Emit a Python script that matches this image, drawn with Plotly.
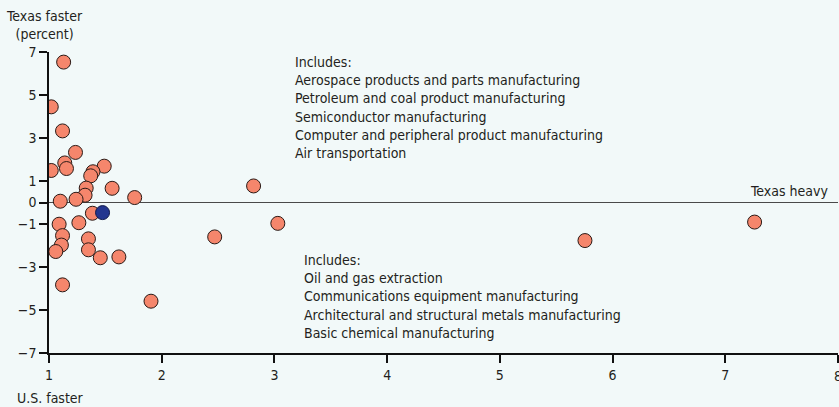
import plotly.graph_objects as go

# Data
x_orange = [1.13, 1.02, 1.12, 1.235, 1.14, 1.155, 1.02, 1.49, 1.39, 1.37, 1.33, 1.56,
            1.32, 1.24, 1.10, 1.76, 1.385, 1.09, 1.265, 1.12, 1.11, 1.06, 1.35, 1.35,
            1.455, 1.62, 1.12, 1.905, 2.815, 3.03, 2.47, 5.755, 7.26]
y_orange = [6.53, 4.45, 3.33, 2.33, 1.84, 1.58, 1.49, 1.69, 1.43, 1.24, 0.67, 0.66,
            0.34, 0.15, 0.06, 0.23, -0.5, -1.01, -0.94, -1.54, -1.98, -2.28, -1.69, -2.2,
            -2.57, -2.53, -3.83, -4.59, 0.77, -0.97, -1.6, -1.77, -0.91]
x_blue = [1.475]
y_blue = [-0.47]

x_ticks = [1, 2, 3, 4, 5, 6, 7, 8]
y_ticks = [7, 5, 3, 1, 0, -1, -3, -5, -7]

upper_note = ["Includes:",
              "Aerospace products and parts manufacturing",
              "Petroleum and coal product manufacturing",
              "Semiconductor manufacturing",
              "Computer and peripheral product manufacturing",
              "Air transportation"]
lower_note = ["Includes:",
              "Oil and gas extraction",
              "Communications equipment manufacturing",
              "Architectural and structural metals manufacturing",
              "Basic chemical manufacturing"]

FONT = "DejaVu Sans Condensed, Liberation Sans Narrow, Arial Narrow, sans-serif"
TXT = "#231f20"
BG = "#f2f9f9"

fig = go.Figure()
fig.add_trace(go.Scatter(
    x=x_orange, y=y_orange, mode="markers",
    marker=dict(size=14, color="#f5866c", line=dict(color="#2a1a16", width=1)),
    hoverinfo="skip", showlegend=False))
fig.add_trace(go.Scatter(
    x=x_blue, y=y_blue, mode="markers",
    marker=dict(size=14, color="#23368f", line=dict(color="#10184a", width=1)),
    hoverinfo="skip", showlegend=False))

fig.add_shape(type="line", xref="paper", yref="y", x0=0, x1=1, y0=0, y1=0,
              line=dict(color="#4a4a4a", width=1.2), layer="below")

fig.update_layout(
    width=839, height=407,
    margin=dict(l=48.5, r=1.3, t=51.7, b=53.7),
    paper_bgcolor=BG, plot_bgcolor=BG,
    font=dict(family=FONT, size=14, color=TXT),
    showlegend=False,
    xaxis=dict(range=[1, 8], tickvals=x_ticks, ticks="outside", ticklen=8,
               tickwidth=1.5, tickcolor="#111", showline=True, linecolor="#111",
               linewidth=1.5, showgrid=False, zeroline=False,
               tickfont=dict(family=FONT, size=14, color=TXT)),
    yaxis=dict(range=[-7, 7], tickvals=y_ticks, ticks="outside", ticklen=8,
               tickwidth=1.5, tickcolor="#111", showline=True, linecolor="#111",
               linewidth=1.5, showgrid=False, zeroline=False,
               tickfont=dict(family=FONT, size=14, color=TXT)),
)

fig.add_annotation(xref="x", yref="y", x=3.165, y=7.0, xanchor="left", yanchor="top",
                   text="<br>".join(upper_note), align="left", showarrow=False,
                   font=dict(family=FONT, size=14, color=TXT))
fig.add_annotation(xref="x", yref="y", x=3.245, y=-2.2, xanchor="left", yanchor="top",
                   text="<br>".join(lower_note), align="left", showarrow=False,
                   font=dict(family=FONT, size=14, color=TXT))
fig.add_annotation(xref="x", yref="y", x=7.925, y=0.52, xanchor="right", yanchor="middle",
                   text="Texas heavy", showarrow=False,
                   font=dict(family=FONT, size=14, color=TXT))
fig.add_annotation(xref="paper", yref="paper", x=-0.006, y=1.09, xanchor="center",
                   yanchor="middle", text="Texas faster<br>(percent)", align="center",
                   showarrow=False, font=dict(family=FONT, size=14, color=TXT))
fig.add_annotation(xref="paper", yref="paper", x=-0.0437, y=-0.148, xanchor="left",
                   yanchor="middle", text="U.S. faster", showarrow=False,
                   font=dict(family=FONT, size=14, color=TXT))
# last x tick label, which plotly drops at the page edge
fig.add_annotation(xref="x", yref="paper", x=x_ticks[-1], y=-0.078, xanchor="center",
                   yanchor="middle", text=str(x_ticks[-1]), showarrow=False,
                   font=dict(family=FONT, size=14, color=TXT))

fig.write_html("out.html", config={"displayModeBar": False},
               post_script="document.body.style.margin='0';document.body.style.overflow='hidden';")
